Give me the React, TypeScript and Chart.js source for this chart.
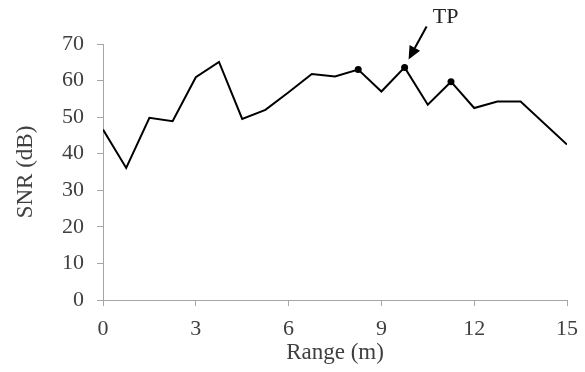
import React, { useEffect, useRef } from "react";
import { Chart, registerables } from "chart.js";

Chart.register(...registerables);

const ranges = [0, 0.75, 1.5, 2.25, 3, 3.75, 4.5, 5.25, 6, 6.75, 7.5, 8.25, 9, 9.75, 10.5, 11.25, 12, 12.75, 13.5, 15];
const snr = [46.6, 36.1, 49.8, 48.9, 60.9, 65.1, 49.5, 52, 56.8, 61.8, 61.1, 63.0, 57.0, 63.6, 53.4, 59.7, 52.5, 54.3, 54.3, 42.5];
const markedRanges = [8.25, 9.75, 11.25];
const tpRange = 9.75;
const tpLabel = "TP";
const xTicks = [0, 3, 6, 9, 12, 15];
const xTitle = "Range (m)";
const yTitle = "SNR (dB)";

const FONT = "'Liberation Serif', 'Times New Roman', serif";
const TEXT = "#404040";
const AXIS = "#a6a6a6";

const tpPlugin = {
  id: "tpArrow",
  afterDatasetsDraw(chart: any) {
    const idx = ranges.indexOf(tpRange);
    const xs = chart.scales.x;
    const ys = chart.scales.y;
    const px = xs.getPixelForValue(ranges[idx]);
    const py = ys.getPixelForValue(snr[idx]);
    const ctx = chart.ctx;
    ctx.save();
    const tipX = px + 4;
    const tipY = py - 8;
    const startX = px + 22;
    const startY = py - 41;
    const ang = Math.atan2(tipY - startY, tipX - startX);
    const headLen = 13;
    const headW = 6;
    const baseX = tipX - headLen * Math.cos(ang);
    const baseY = tipY - headLen * Math.sin(ang);
    ctx.strokeStyle = "#000";
    ctx.lineWidth = 2;
    ctx.beginPath();
    ctx.moveTo(startX, startY);
    ctx.lineTo(baseX, baseY);
    ctx.stroke();
    ctx.fillStyle = "#000";
    ctx.beginPath();
    ctx.moveTo(tipX, tipY);
    ctx.lineTo(baseX + headW * Math.sin(ang), baseY - headW * Math.cos(ang));
    ctx.lineTo(baseX - headW * Math.sin(ang), baseY + headW * Math.cos(ang));
    ctx.closePath();
    ctx.fill();
    ctx.font = `22px ${FONT}`;
    ctx.fillStyle = "#222";
    ctx.textAlign = "center";
    ctx.textBaseline = "middle";
    ctx.fillText(tpLabel, px + 41, py - 50);
    ctx.restore();
  },
};

export default function App() {
  const ref = useRef<HTMLCanvasElement | null>(null);
  useEffect(() => {
    document.body.style.margin = "0";
    const chart = new Chart(ref.current as HTMLCanvasElement, {
      type: "line",
      data: {
        datasets: [
          {
            data: ranges.map((r, i) => ({ x: r, y: snr[i] })),
            borderColor: "#000",
            borderWidth: 2,
            tension: 0,
            pointRadius: ranges.map((r) => (markedRanges.includes(r) ? 3.5 : 0)),
            pointBackgroundColor: "#000",
            pointBorderWidth: 0,
          },
        ],
      },
      options: {
        animation: false,
        responsive: false,
        maintainAspectRatio: false,
        layout: { padding: { top: 44, right: 18, bottom: 5, left: 12 } },
        plugins: { legend: { display: false }, tooltip: { enabled: false } },
        scales: {
          x: {
            type: "linear",
            min: 0,
            max: 15,
            afterBuildTicks: (s: any) => {
              s.ticks = xTicks.map((v) => ({ value: v }));
            },
            afterFit: (s: any) => {
              s.height = 67;
              s.paddingLeft = 0;
              s.paddingRight = 0;
            },
            grid: { drawOnChartArea: false, tickLength: 6, color: AXIS },
            border: { color: AXIS, width: 1 },
            ticks: { color: TEXT, font: { family: FONT, size: 22 }, padding: 10, maxRotation: 0 },
            title: { display: true, text: xTitle, color: TEXT, font: { family: FONT, size: 23 }, padding: { top: 0, bottom: 0 } },
          },
          y: {
            min: 0,
            max: 70,
            ticks: { stepSize: 10, color: TEXT, font: { family: FONT, size: 22 }, padding: 13 },
            afterFit: (s: any) => {
              s.width = 91;
              s.paddingTop = 0;
              s.paddingBottom = 0;
            },
            grid: { drawOnChartArea: false, tickLength: 6, color: AXIS },
            border: { color: AXIS, width: 1 },
            title: { display: true, text: yTitle, color: TEXT, font: { family: FONT, size: 23 }, padding: { top: 0, bottom: 4 } },
          },
        },
      },
      plugins: [tpPlugin],
    } as any);
    return () => chart.destroy();
  }, []);
  return (
    <div style={{ width: 585, height: 372 }}>
      <canvas ref={ref} width={585} height={372} style={{ display: "block" }} />
    </div>
  );
}
